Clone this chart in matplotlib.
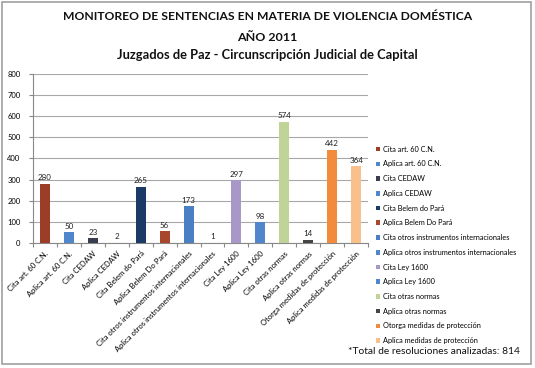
import matplotlib
matplotlib.use("Agg")
import matplotlib.pyplot as plt
from matplotlib.patches import Rectangle, Patch
import numpy as np

categories = ["Cita art. 60 C.N.", "Aplica art. 60 C.N.", "Cita CEDAW", "Aplica CEDAW",
              "Cita Belem do Pará", "Aplica Belem Do Pará",
              "Cita otros instrumentos internacionales",
              "Aplica otros instrumentos internacionales",
              "Cita Ley 1600", "Aplica Ley 1600", "Cita otras normas",
              "Aplica otras normas", "Otorga medidas de protección",
              "Aplica medidas de protección"]
values = [280, 50, 23, 2, 265, 56, 173, 1, 297, 98, 574, 14, 442, 364]
colors = ["#9C3D28", "#4F86CC", "#3A3D4E", "#4F86CC", "#1B3B66", "#A8472C",
          "#4A7FC4", "#4F86CC", "#A898C8", "#4F86CC", "#C0D498", "#454545",
          "#F28C3C", "#F9C08C"]
yticks = [0, 100, 200, 300, 400, 500, 600, 700, 800]

plt.rcParams['font.family'] = ['Lato', 'DejaVu Sans']

fig = plt.figure(figsize=(5.35, 3.68), dpi=100)
fig.patches.append(Rectangle((0.004, 0.012), 0.989, 0.982, transform=fig.transFigure,
                             fill=False, edgecolor="#A0A0A0", linewidth=1.2))

fig.text(0.5, 0.955, "MONITOREO DE SENTENCIAS EN MATERIA DE VIOLENCIA DOMÉSTICA",
         ha="center", va="center", fontsize=8.7, fontweight="bold", color="#111111")
fig.text(0.5, 0.897, "AÑO 2011", ha="center", va="center", fontsize=8.9,
         fontweight="bold", color="#111111")
fig.text(0.5, 0.850, "Juzgados de Paz - Circunscripción Judicial de Capital",
         ha="center", va="center", fontsize=9.3, fontweight="bold", color="#111111")

ax = fig.add_axes([0.0617, 0.3397, 0.6263, 0.4593])
x = np.arange(len(categories))
bars = ax.bar(x, values, width=0.42, color=colors, zorder=3)
for xi, v in zip(x, values):
    ax.text(xi, v + 12, str(v), ha="center", va="bottom", fontsize=5.8, color="#222222")

ax.set_ylim(0, 800)
ax.set_xlim(-0.5, len(categories) - 0.5)
ax.set_yticks(yticks)
ax.set_yticklabels([str(t) for t in yticks], fontsize=5.5)
ax.yaxis.grid(True, color="#A8A8A8", linewidth=0.8, zorder=0)
ax.tick_params(axis="y", length=3, color="#888888", pad=6)
ax.set_xticks(np.arange(-0.5, len(categories), 1.0), minor=False)
ax.set_xticklabels([])
ax.set_xticks(x, minor=True)
ax.set_xticklabels(categories, minor=True, rotation=45, ha="right",
                   rotation_mode="anchor", fontsize=5.5)
ax.tick_params(axis="x", which="major", length=3, color="#888888")
ax.tick_params(axis="x", which="minor", length=0, pad=5)
for s in ["top", "right"]:
    ax.spines[s].set_visible(False)
for s in ["left", "bottom"]:
    ax.spines[s].set_color("#888888")
    ax.spines[s].set_linewidth(0.8)

handles = [Patch(facecolor=c, label=l) for c, l in zip(colors, categories)]
fig.legend(handles=handles, loc="upper left", bbox_to_anchor=(0.697, 0.612),
           frameon=False, fontsize=5.3, handlelength=0.6, handleheight=0.6,
           handletextpad=0.4, labelspacing=1.05, borderaxespad=0)

fig.text(0.972, 0.045, "*Total de resoluciones analizadas: 814", ha="right",
         va="center", fontsize=7.4, color="#111111")

fig.savefig("out.png", dpi=100)
